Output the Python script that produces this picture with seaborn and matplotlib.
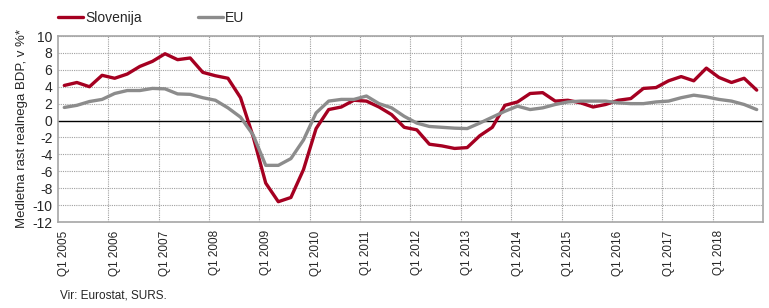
import matplotlib
matplotlib.use("Agg")
import matplotlib.pyplot as plt
import seaborn as sns
import pandas as pd
import numpy as np

years = list(range(2005, 2019))
quarters = [f"Q{q} {y}" for y in years for q in range(1, 5)]

slovenija = [4.15, 4.5, 4.0, 5.35, 5.0, 5.5, 6.4, 7.0, 7.9, 7.2,
             7.4, 5.7, 5.3, 5.0, 2.7, -1.9, -7.4, -9.6, -9.1, -5.8,
             -0.95, 1.3, 1.6, 2.4, 2.3, 1.6, 0.7, -0.8, -1.1, -2.8,
             -3.0, -3.3, -3.2, -1.8, -0.8, 1.8, 2.2, 3.2, 3.3, 2.3,
             2.4, 2.1, 1.6, 1.9, 2.4, 2.6, 3.8, 3.9, 4.7, 5.2,
             4.7, 6.2, 5.1, 4.5, 5.0, 3.6]
eu = [1.55, 1.8, 2.25, 2.5, 3.2, 3.55, 3.55, 3.8, 3.75, 3.15,
      3.1, 2.7, 2.4, 1.5, 0.4, -1.7, -5.3, -5.3, -4.5, -2.3,
      0.9, 2.3, 2.5, 2.5, 2.9, 2.0, 1.5, 0.5, -0.3, -0.7,
      -0.8, -0.9, -0.95, -0.3, 0.4, 1.1, 1.7, 1.3, 1.5, 1.9,
      2.2, 2.3, 2.3, 2.3, 2.1, 2.0, 2.0, 2.2, 2.3, 2.7,
      3.0, 2.8, 2.5, 2.3, 1.9, 1.3]
series_names = ["Slovenija", "EU"]
tick_labels = [f"Q1 {y}" for y in years]
y_ticks = list(range(-12, 11, 2))

sns.set_theme(style="white")
plt.rcParams['font.family'] = ['Liberation Sans', 'DejaVu Sans']

n = len(quarters)
df = pd.DataFrame({
    "idx": list(range(n)) * 2,
    "value": slovenija + eu,
    "series": [series_names[0]] * n + [series_names[1]] * n,
})

fig = plt.figure(figsize=(7.69, 3.08), dpi=100)
ax = fig.add_axes([58/769, 1-222/308, (763-58)/769, (222-36)/308])

palette = {"Slovenija": "#A50021", "EU": "#8C8C8C"}
sns.lineplot(data=df, x="idx", y="value", hue="series", palette=palette,
             linewidth=2.4, ax=ax, legend=True, zorder=3)

ax.set_xlim(-0.5, n - 0.5)
ax.set_ylim(-12, 10)
ax.set_yticks(y_ticks)
ax.set_yticklabels([str(v) for v in y_ticks], fontsize=10)
ax.set_xticks(list(range(0, n, 4)))
ax.set_xticklabels(tick_labels, rotation=90, fontsize=8.5)
ax.set_xticks([i - 0.5 for i in range(4, n, 4)], minor=True)
ax.tick_params(axis='both', which='both', length=0, pad=4)
ax.tick_params(axis='x', pad=6)

ax.grid(False)
for yv in y_ticks:
    if yv != 0:
        ax.axhline(yv, color="#A0A0A0", linestyle=(0, (1, 1)), linewidth=0.8, zorder=1)
for xv in ax.get_xticks(minor=True):
    ax.axvline(xv, color="#A0A0A0", linestyle=(0, (1, 1)), linewidth=0.8, zorder=1)
ax.axhline(0, color="black", linewidth=1.0, zorder=2)

for s in ax.spines.values():
    s.set_color("#A6A6A6")
    s.set_linewidth(1.2)

ax.set_xlabel("")
ax.set_ylabel("Medletna rast realnega BDP, v %*", fontsize=9.5, labelpad=3)

handles, labels = ax.get_legend_handles_labels()
ax.get_legend().remove()
fig.legend(handles, labels, loc="center left", bbox_to_anchor=(52/769, 1-18/308),
           ncol=2, frameon=False, fontsize=10, handlelength=1.8,
           handletextpad=0.2, columnspacing=4.0, borderaxespad=0.0)

fig.text(60/769, 1-296/308, "Vir: Eurostat, SURS.", fontsize=8.5, va="center", ha="left")

fig.savefig("out.png", dpi=100)
